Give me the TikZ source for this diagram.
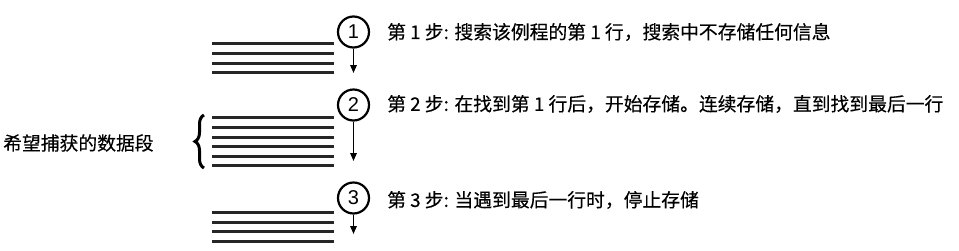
\documentclass[tikz,border=0pt]{standalone}
\usepackage{fontspec}
\setmainfont{Liberation Sans}
\newfontfamily\cjk[FakeBold=0.3]{Noto Sans CJK SC}
\usetikzlibrary{arrows.meta,positioning,decorations.pathreplacing}

\tikzset{
  num/.style={circle, draw, line width=2.2pt, minimum size=31pt, inner sep=0pt, font=\fontsize{20}{20}\selectfont},
  txt/.style={anchor=west, inner sep=0pt, font=\cjk\fontsize{18.8}{20}\selectfont},
  row/.style={line width=3pt, black!85},
  down/.style={line width=1.5pt, -{Triangle[width=6.5pt,length=8pt]}},
}

\begin{document}
\begin{tikzpicture}[x=1pt,y=-1pt]
    \useasboundingbox (0,0) rectangle (959,250);
    % Step 1
    \foreach \y in {43,53,63,72} \draw[row] (212,\y) -- (334,\y);
    \node[num] (n1) at (353.5,32) {1};
    \coordinate (e1) at (353.5,73);
    \draw[down] (n1) -- (e1);
    \node[txt] (t1) at (387,32) {第 1 步: 搜索该例程的第 1 行，搜索中不存储任何信息};
    % Step 2
    \foreach \y in {117,127,137,146,156,165} \draw[row] (212,\y) -- (334,\y);
    \node[num] (n2) at (353.5,105) {2};
    \coordinate (e2) at (353.5,161);
    \draw[down] (n2) -- (e2);
    \node[txt] (t2) at (387,104) {第 2 步: 在找到第 1 行后，开始存储。连续存储，直到找到最后一行};
    % Step 3
    \foreach \y in {212,222,231,241} \draw[row] (212,\y) -- (334,\y);
    \node[num] (n3) at (353.5,198) {3};
    \coordinate (e3) at (353.5,234);
    \draw[down] (n3) -- (e3);
    \node[txt] (t3) at (387,200) {第 3 步: 当遇到最后一行时，停止存储};
    % captured block
    \draw[decorate, decoration={brace, amplitude=9pt}, line width=3pt] (204,168) -- (204,115);
    \node[txt] (cap) at (3,143) {希望捕获的数据段};
\end{tikzpicture}
\end{document}
